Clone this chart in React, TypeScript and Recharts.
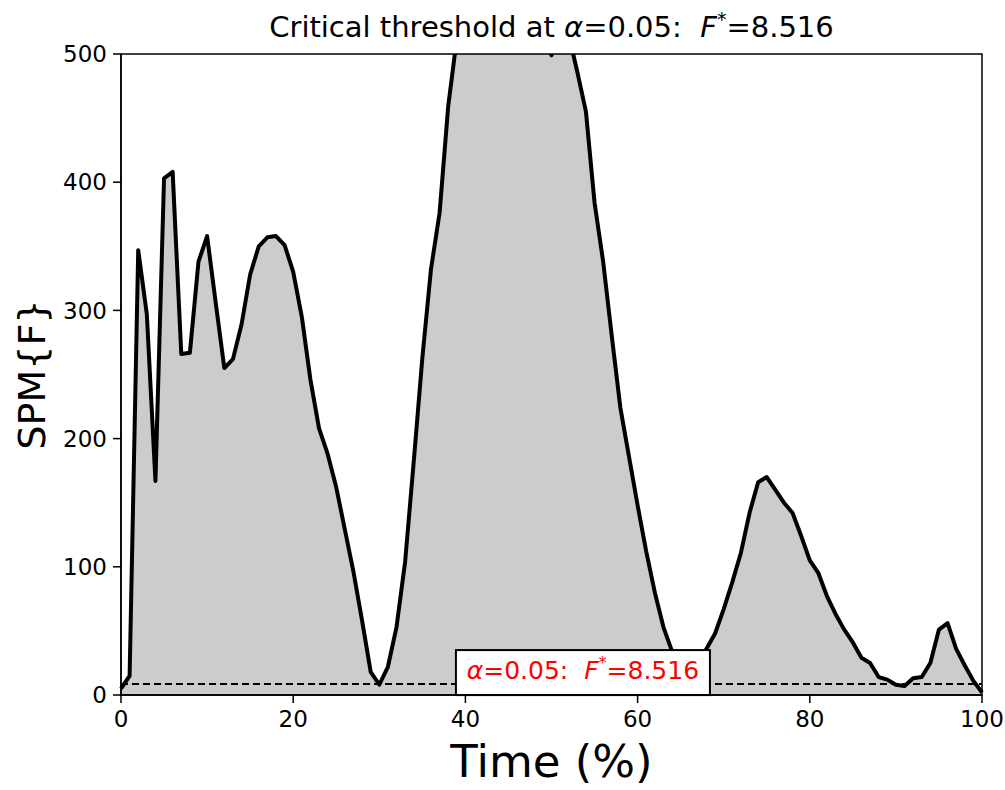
import React from "react";
import {
  ComposedChart,
  Area,
  XAxis,
  YAxis,
  ReferenceLine,
  ReferenceArea,
} from "recharts";

// time axis (% of cycle)
const times = [
  0, 1, 2, 3, 4, 5, 6, 7, 8, 9, 10, 11, 12, 13, 14, 15, 16, 17, 18, 19, 20,
  21, 22, 23, 24, 25, 26, 27, 28, 29, 30, 31, 32, 33, 34, 35, 36, 37, 38, 39, 40,
  41, 42, 43, 44, 45, 46, 47, 48, 49, 50, 51, 52, 53, 54, 55, 56, 57, 58, 59, 60,
  61, 62, 63, 64, 65, 66, 67, 68, 69, 70, 71, 72, 73, 74, 75, 76, 77, 78, 79, 80,
  81, 82, 83, 84, 85, 86, 87, 88, 89, 90, 91, 92, 93, 94, 95, 96, 97, 98, 99, 100,
];

// SPM{F} trajectory (peak clipped above 500)
const fValues = [
  5, 15, 347, 297, 167, 403, 408, 266, 267, 338, 358, 306, 255, 262, 289, 328, 350, 357, 358, 351, 330,
  295, 246, 208, 188, 162, 129, 96, 58, 18, 8, 22, 53, 104, 182, 263, 332, 376, 459, 512, 560,
  600, 635, 660, 672, 670, 650, 610, 560, 525, 499, 522, 515, 486, 455, 384, 338, 280, 224, 186, 148,
  112, 80, 53, 34, 21, 17, 25, 36, 48, 67, 88, 111, 142, 166, 170, 160, 150, 142, 124, 105,
  95, 77, 63, 51, 41, 29, 25, 14, 12, 8, 7, 13, 14, 25, 51, 56, 36, 23, 11, 2,
];

const xTicks = [0, 20, 40, 60, 80, 100];
const yTicks = [0, 100, 200, 300, 400, 500];
const threshold = 8.516;
const alpha = 0.05;

const data = times.map((t, i) => ({ t, f: fValues[i] }));

const FONT = "'DejaVu Sans', sans-serif";

const ThresholdLabel = (props: any) => {
  const vb = props.viewBox || {};
  const boxX = vb.x + vb.width * 0.389;
  const boxW = vb.width * 0.295;
  const y = vb.y;
  return (
    <g>
      <rect
        x={boxX}
        y={y - 34}
        width={boxW}
        height={45}
        fill="#ffffff"
        stroke="#000000"
        strokeWidth={2}
      />
      <text
        x={boxX + boxW / 2}
        y={y - 5}
        textAnchor="middle"
        fill="#ff0000"
        fontSize={25}
        fontFamily={FONT}
        style={{ whiteSpace: "pre" }}
      >
        <tspan fontStyle="italic">α</tspan>
        <tspan>{`=${alpha}:\u00a0\u00a0`}</tspan>
        <tspan fontStyle="italic">F</tspan>
        <tspan fontSize={16} dy={-11}>*</tspan>
        <tspan dy={11}>{`=${threshold}`}</tspan>
      </text>
    </g>
  );
};

export default function App() {
  return (
    <div
      style={{
        position: "absolute",
        left: 0,
        top: 0,
        width: 1005,
        height: 790,
        background: "#ffffff",
        fontFamily: FONT,
      }}
    >
      <div
        style={{
          position: "absolute",
          left: 121,
          width: 861,
          top: 9,
          textAlign: "center",
          fontSize: 29,
          color: "#000",
          whiteSpace: "pre",
          lineHeight: "36px",
        }}
      >
        Critical threshold at <i>α</i>={alpha}:{"  "}
        <i>F</i>
        <sup style={{ fontSize: 19, lineHeight: 0 }}>*</sup>={threshold}
      </div>
      <ComposedChart
        width={1005}
        height={790}
        data={data}
        margin={{ top: 54, right: 23, bottom: 35, left: 0 }}
      >
        <XAxis
          dataKey="t"
          type="number"
          domain={[0, 100]}
          ticks={xTicks}
          interval={0}
          axisLine={{ stroke: "#000", strokeWidth: 1.5 }}
          tickLine={{ stroke: "#000", strokeWidth: 1.5 }}
          tickSize={8}
          tickMargin={8}
          tick={{ fill: "#000", fontSize: 23, fontFamily: FONT }}
          height={60}
          label={{
            value: "Time (%)",
            position: "insideBottom",
            offset: -22,
            fill: "#000",
            fontSize: 45,
            fontFamily: FONT,
          }}
        />
        <YAxis
          type="number"
          domain={[0, 500]}
          ticks={yTicks}
          interval={0}
          allowDataOverflow
          axisLine={{ stroke: "#000", strokeWidth: 1.5 }}
          tickLine={{ stroke: "#000", strokeWidth: 1.5 }}
          tickSize={8}
          tickMargin={6}
          tick={{ fill: "#000", fontSize: 23, fontFamily: FONT }}
          width={121}
          label={{
            value: "SPM{F}",
            angle: -90,
            position: "insideLeft",
            offset: 32,
            fill: "#000",
            fontSize: 38,
            fontFamily: FONT,
            style: { textAnchor: "middle" },
          }}
        />
        <Area
          type="linear"
          dataKey="f"
          stroke="#000000"
          strokeWidth={4}
          strokeLinejoin="round"
          fill="#cccccc"
          fillOpacity={1}
          baseValue={0}
          dot={false}
          activeDot={false}
          isAnimationActive={false}
        />
        <ReferenceLine
          y={0}
          stroke="#000"
          strokeWidth={1}
          strokeDasharray="1.5 1.5"
        />
        <ReferenceLine
          y={threshold}
          stroke="#000"
          strokeWidth={2}
          strokeDasharray="7 4"
          label={<ThresholdLabel />}
        />
        <ReferenceArea
          x1={0}
          x2={100}
          y1={0}
          y2={500}
          fill="none"
          fillOpacity={0}
          stroke="#000"
          strokeWidth={1.5}
        />
      </ComposedChart>
    </div>
  );
}
